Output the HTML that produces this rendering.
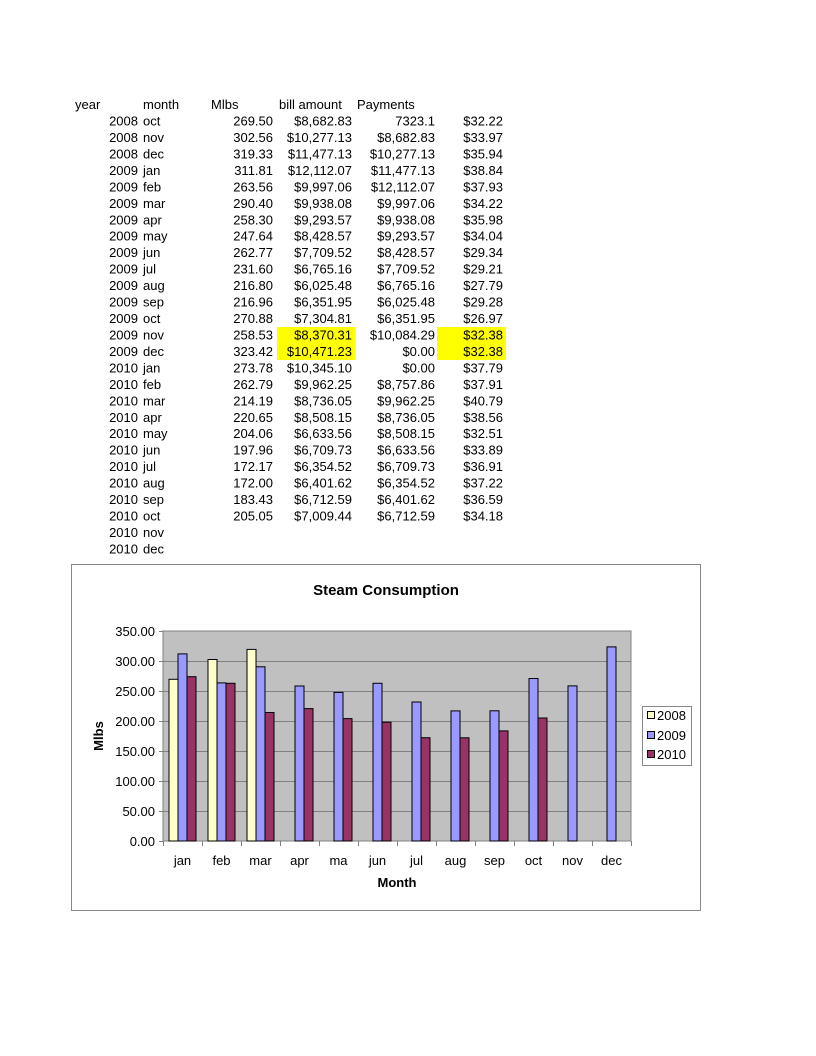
<!DOCTYPE html>
<html><head><meta charset="utf-8"><style>
body{margin:0;background:#fff;}
svg{display:block;font-family:"Liberation Sans",Arial,sans-serif;}
</style></head><body>
<svg width="816" height="1056" xmlns="http://www.w3.org/2000/svg">
<rect x="277" y="327" width="78" height="33" fill="#ffff00"/>
<rect x="437" y="327" width="69" height="33" fill="#ffff00"/>
<g font-size="13" fill="#000">
<text x="75" y="109">year</text><text x="143" y="109">month</text><text x="211" y="109">Mlbs</text><text x="279" y="109">bill amount</text><text x="357" y="109">Payments</text>
</g>
<g font-size="13" fill="#000" text-anchor="end">
<text x="138" y="125.5">2008</text><text x="138" y="142">2008</text><text x="138" y="158.5">2008</text><text x="138" y="175">2009</text><text x="138" y="191.4">2009</text><text x="138" y="207.8">2009</text><text x="138" y="224.3">2009</text><text x="138" y="240.7">2009</text><text x="138" y="257.2">2009</text><text x="138" y="273.7">2009</text><text x="138" y="290.1">2009</text><text x="138" y="306.6">2009</text><text x="138" y="323">2009</text><text x="138" y="339.5">2009</text><text x="138" y="356">2009</text><text x="138" y="372.4">2010</text><text x="138" y="388.9">2010</text><text x="138" y="405.3">2010</text><text x="138" y="421.8">2010</text><text x="138" y="438.2">2010</text><text x="138" y="454.7">2010</text><text x="138" y="471.2">2010</text><text x="138" y="487.6">2010</text><text x="138" y="504.1">2010</text><text x="138" y="520.5">2010</text><text x="138" y="537">2010</text><text x="138" y="553.4">2010</text>
<text x="273" y="125.5">269.50</text><text x="273" y="142">302.56</text><text x="273" y="158.5">319.33</text><text x="273" y="175">311.81</text><text x="273" y="191.4">263.56</text><text x="273" y="207.8">290.40</text><text x="273" y="224.3">258.30</text><text x="273" y="240.7">247.64</text><text x="273" y="257.2">262.77</text><text x="273" y="273.7">231.60</text><text x="273" y="290.1">216.80</text><text x="273" y="306.6">216.96</text><text x="273" y="323">270.88</text><text x="273" y="339.5">258.53</text><text x="273" y="356">323.42</text><text x="273" y="372.4">273.78</text><text x="273" y="388.9">262.79</text><text x="273" y="405.3">214.19</text><text x="273" y="421.8">220.65</text><text x="273" y="438.2">204.06</text><text x="273" y="454.7">197.96</text><text x="273" y="471.2">172.17</text><text x="273" y="487.6">172.00</text><text x="273" y="504.1">183.43</text><text x="273" y="520.5">205.05</text>
<text x="352" y="125.5">$8,682.83</text><text x="352" y="142">$10,277.13</text><text x="352" y="158.5">$11,477.13</text><text x="352" y="175">$12,112.07</text><text x="352" y="191.4">$9,997.06</text><text x="352" y="207.8">$9,938.08</text><text x="352" y="224.3">$9,293.57</text><text x="352" y="240.7">$8,428.57</text><text x="352" y="257.2">$7,709.52</text><text x="352" y="273.7">$6,765.16</text><text x="352" y="290.1">$6,025.48</text><text x="352" y="306.6">$6,351.95</text><text x="352" y="323">$7,304.81</text><text x="352" y="339.5">$8,370.31</text><text x="352" y="356">$10,471.23</text><text x="352" y="372.4">$10,345.10</text><text x="352" y="388.9">$9,962.25</text><text x="352" y="405.3">$8,736.05</text><text x="352" y="421.8">$8,508.15</text><text x="352" y="438.2">$6,633.56</text><text x="352" y="454.7">$6,709.73</text><text x="352" y="471.2">$6,354.52</text><text x="352" y="487.6">$6,401.62</text><text x="352" y="504.1">$6,712.59</text><text x="352" y="520.5">$7,009.44</text>
<text x="435" y="125.5">7323.1</text><text x="435" y="142">$8,682.83</text><text x="435" y="158.5">$10,277.13</text><text x="435" y="175">$11,477.13</text><text x="435" y="191.4">$12,112.07</text><text x="435" y="207.8">$9,997.06</text><text x="435" y="224.3">$9,938.08</text><text x="435" y="240.7">$9,293.57</text><text x="435" y="257.2">$8,428.57</text><text x="435" y="273.7">$7,709.52</text><text x="435" y="290.1">$6,765.16</text><text x="435" y="306.6">$6,025.48</text><text x="435" y="323">$6,351.95</text><text x="435" y="339.5">$10,084.29</text><text x="435" y="356">$0.00</text><text x="435" y="372.4">$0.00</text><text x="435" y="388.9">$8,757.86</text><text x="435" y="405.3">$9,962.25</text><text x="435" y="421.8">$8,736.05</text><text x="435" y="438.2">$8,508.15</text><text x="435" y="454.7">$6,633.56</text><text x="435" y="471.2">$6,709.73</text><text x="435" y="487.6">$6,354.52</text><text x="435" y="504.1">$6,401.62</text><text x="435" y="520.5">$6,712.59</text>
<text x="503" y="125.5">$32.22</text><text x="503" y="142">$33.97</text><text x="503" y="158.5">$35.94</text><text x="503" y="175">$38.84</text><text x="503" y="191.4">$37.93</text><text x="503" y="207.8">$34.22</text><text x="503" y="224.3">$35.98</text><text x="503" y="240.7">$34.04</text><text x="503" y="257.2">$29.34</text><text x="503" y="273.7">$29.21</text><text x="503" y="290.1">$27.79</text><text x="503" y="306.6">$29.28</text><text x="503" y="323">$26.97</text><text x="503" y="339.5">$32.38</text><text x="503" y="356">$32.38</text><text x="503" y="372.4">$37.79</text><text x="503" y="388.9">$37.91</text><text x="503" y="405.3">$40.79</text><text x="503" y="421.8">$38.56</text><text x="503" y="438.2">$32.51</text><text x="503" y="454.7">$33.89</text><text x="503" y="471.2">$36.91</text><text x="503" y="487.6">$37.22</text><text x="503" y="504.1">$36.59</text><text x="503" y="520.5">$34.18</text>
</g>
<g font-size="13" fill="#000">
<text x="143" y="125.5">oct</text><text x="143" y="142">nov</text><text x="143" y="158.5">dec</text><text x="143" y="175">jan</text><text x="143" y="191.4">feb</text><text x="143" y="207.8">mar</text><text x="143" y="224.3">apr</text><text x="143" y="240.7">may</text><text x="143" y="257.2">jun</text><text x="143" y="273.7">jul</text><text x="143" y="290.1">aug</text><text x="143" y="306.6">sep</text><text x="143" y="323">oct</text><text x="143" y="339.5">nov</text><text x="143" y="356">dec</text><text x="143" y="372.4">jan</text><text x="143" y="388.9">feb</text><text x="143" y="405.3">mar</text><text x="143" y="421.8">apr</text><text x="143" y="438.2">may</text><text x="143" y="454.7">jun</text><text x="143" y="471.2">jul</text><text x="143" y="487.6">aug</text><text x="143" y="504.1">sep</text><text x="143" y="520.5">oct</text><text x="143" y="537">nov</text><text x="143" y="553.4">dec</text>
</g>
<!-- chart -->
<rect x="71.5" y="564.5" width="629" height="346" fill="#fff" stroke="#888" stroke-width="1"/>
<text x="386" y="595" font-size="15" font-weight="bold" text-anchor="middle">Steam Consumption</text>
<rect x="163" y="631" width="468" height="210" fill="#c0c0c0" stroke="#808080"/>
<g stroke="#808080" stroke-width="1">
<line x1="163" x2="631" y1="661.5" y2="661.5"/><line x1="163" x2="631" y1="691.5" y2="691.5"/><line x1="163" x2="631" y1="721.5" y2="721.5"/><line x1="163" x2="631" y1="751.5" y2="751.5"/><line x1="163" x2="631" y1="781.5" y2="781.5"/><line x1="163" x2="631" y1="811.5" y2="811.5"/>
<line x1="159" x2="163" y1="631.5" y2="631.5"/><line x1="159" x2="163" y1="661.5" y2="661.5"/><line x1="159" x2="163" y1="691.5" y2="691.5"/><line x1="159" x2="163" y1="721.5" y2="721.5"/><line x1="159" x2="163" y1="751.5" y2="751.5"/><line x1="159" x2="163" y1="781.5" y2="781.5"/><line x1="159" x2="163" y1="811.5" y2="811.5"/><line x1="159" x2="163" y1="841.5" y2="841.5"/>
<line x1="163.5" x2="163.5" y1="841" y2="846"/><line x1="202.5" x2="202.5" y1="841" y2="846"/><line x1="241.5" x2="241.5" y1="841" y2="846"/><line x1="280.5" x2="280.5" y1="841" y2="846"/><line x1="319.5" x2="319.5" y1="841" y2="846"/><line x1="358.5" x2="358.5" y1="841" y2="846"/><line x1="397.5" x2="397.5" y1="841" y2="846"/><line x1="436.5" x2="436.5" y1="841" y2="846"/><line x1="475.5" x2="475.5" y1="841" y2="846"/><line x1="514.5" x2="514.5" y1="841" y2="846"/><line x1="553.5" x2="553.5" y1="841" y2="846"/><line x1="592.5" x2="592.5" y1="841" y2="846"/><line x1="631.5" x2="631.5" y1="841" y2="846"/>
</g>
<g stroke="#000" stroke-width="1">
<g fill="#ffffcc">
<rect x="169" y="679.3" width="9" height="161.7"/><rect x="208" y="659.5" width="9" height="181.5"/><rect x="247" y="649.4" width="9" height="191.6"/>
</g>
<g fill="#9999ff">
<rect x="178" y="653.9" width="9" height="187.1"/><rect x="217" y="682.9" width="9" height="158.1"/><rect x="256" y="666.8" width="9" height="174.2"/><rect x="295" y="686" width="9" height="155"/><rect x="334" y="692.4" width="9" height="148.6"/><rect x="373" y="683.3" width="9" height="157.7"/><rect x="412" y="702" width="9" height="139"/><rect x="451" y="710.9" width="9" height="130.1"/><rect x="490" y="710.8" width="9" height="130.2"/><rect x="529" y="678.5" width="9" height="162.5"/><rect x="568" y="685.9" width="9" height="155.1"/><rect x="607" y="646.9" width="9" height="194.1"/>
</g>
<g fill="#993366">
<rect x="187" y="676.7" width="9" height="164.3"/><rect x="226" y="683.3" width="9" height="157.7"/><rect x="265" y="712.5" width="9" height="128.5"/><rect x="304" y="708.6" width="9" height="132.4"/><rect x="343" y="718.6" width="9" height="122.4"/><rect x="382" y="722.2" width="9" height="118.8"/><rect x="421" y="737.7" width="9" height="103.3"/><rect x="460" y="737.8" width="9" height="103.2"/><rect x="499" y="730.9" width="9" height="110.1"/><rect x="538" y="718" width="9" height="123"/>
</g>
</g>
<g font-size="13" text-anchor="end">
<text x="155" y="636">350.00</text><text x="155" y="666">300.00</text><text x="155" y="696">250.00</text><text x="155" y="726">200.00</text><text x="155" y="756">150.00</text><text x="155" y="786">100.00</text><text x="155" y="816">50.00</text><text x="155" y="846">0.00</text>
</g>
<g font-size="13" text-anchor="middle">
<text x="182.5" y="865">jan</text><text x="221.5" y="865">feb</text><text x="260.5" y="865">mar</text><text x="299.5" y="865">apr</text><text x="338.5" y="865">ma</text><text x="377.5" y="865">jun</text><text x="416.5" y="865">jul</text><text x="455.5" y="865">aug</text><text x="494.5" y="865">sep</text><text x="533.5" y="865">oct</text><text x="572.5" y="865">nov</text><text x="611.5" y="865">dec</text>
</g>
<text x="397" y="887" font-size="13" font-weight="bold" text-anchor="middle">Month</text>
<text transform="translate(103,736) rotate(-90)" font-size="13" font-weight="bold" text-anchor="middle">Mlbs</text>
<rect x="642.5" y="706.5" width="49" height="59" fill="#fff" stroke="#888"/>
<g stroke="#000">
<rect x="647.5" y="711.5" width="7" height="7" fill="#ffffcc"/>
<rect x="647.5" y="731.5" width="7" height="7" fill="#9999ff"/>
<rect x="647.5" y="750.5" width="7" height="7" fill="#993366"/>
</g>
<g font-size="13"><text x="657" y="720">2008</text><text x="657" y="740">2009</text><text x="657" y="759">2010</text></g>
</svg>
</body></html>
